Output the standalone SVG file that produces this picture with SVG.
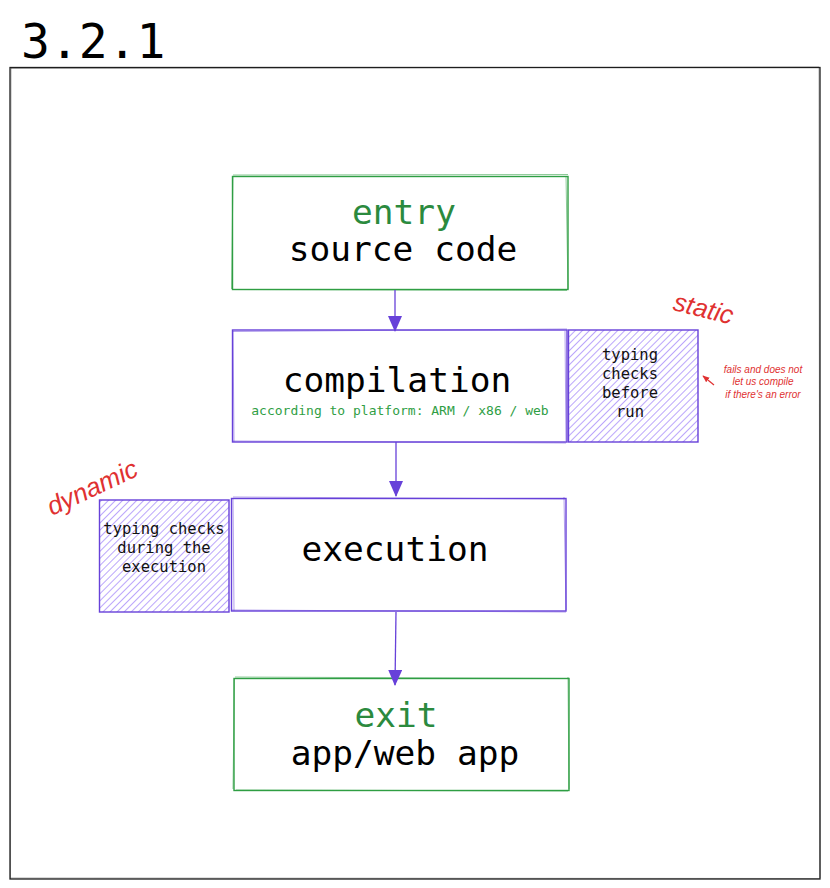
<svg xmlns="http://www.w3.org/2000/svg" width="830" height="888" viewBox="0 0 830 888">
<defs>
<style>
.mono{font-family:"DejaVu Sans Mono","Liberation Mono",monospace;}
.big{font-size:34.5px;fill:#000;text-anchor:middle;}
.grn{fill:#2b8a3e;}
.gbox{fill:#fff;stroke:#2f9e44;stroke-width:1.4;}
.gsk{fill:none;stroke:#2f9e44;stroke-width:1;opacity:0.55;}
.pbox{fill:#fff;stroke:#6741d9;stroke-width:1.4;}
.psk{fill:none;stroke:#6741d9;stroke-width:1;opacity:0.5;}
.hbox{fill:url(#hatch);stroke:#6741d9;stroke-width:1.4;}
.small{font-size:15.5px;fill:#111;text-anchor:middle;}
.conn{fill:none;stroke:#6741d9;stroke-width:1.3;}
.hand{font-family:"Comic Sans MS","Liberation Sans",sans-serif;fill:#e03131;font-style:italic;}
</style>
<pattern id="hatch" patternUnits="userSpaceOnUse" width="5" height="5" patternTransform="rotate(45)">
<rect width="5" height="5" fill="#fff"/>
<line x1="0" y1="0" x2="0" y2="5" stroke="#9775fa" stroke-width="1.3"/>
</pattern>
<marker id="arr" viewBox="0 0 16 14" refX="15" refY="7" markerWidth="16" markerHeight="14" orient="auto" markerUnits="userSpaceOnUse">
<path d="M0,0 L16,7 L0,14 Z" fill="#6741d9"/>
</marker>
<marker id="arrR" viewBox="0 0 10 10" refX="9" refY="5" markerWidth="7" markerHeight="7" orient="auto" markerUnits="userSpaceOnUse">
<path d="M0,1 L10,5 L0,9 Z" fill="#e03131"/>
</marker>
</defs>
<rect width="830" height="888" fill="#fff"/>
<text class="mono" x="21" y="58" font-size="48" fill="#000">3.2.1</text>
<g id="frame">
<rect x="10" y="67.5" width="810" height="811.5" fill="none" stroke="#1e1e1e" stroke-width="1.3"/>
<path d="M11,68.5 L819,67 M819,68 L820,878 M819.5,878.5 L11,878 M10.5,879 L11,68" fill="none" stroke="#1e1e1e" stroke-width="0.6" opacity="0.6"/>
</g>
<g id="entry">
<rect class="gbox" x="232.5" y="176.5" width="335.5" height="113"/>
<path class="gsk" d="M233,175 L568,174.5 M566,176 L568,289 M567,290.5 L234,289.5 M231.5,289 L233,177"/>
<text class="mono big grn" x="404" y="224">entry</text>
<text class="mono big" x="403" y="261">source code</text>
</g>
<g id="compilation">
<rect class="pbox" x="232.5" y="330" width="334.5" height="112"/>
<path class="psk" d="M233,331.5 L567,329 M565,331 L566,441 M566,443 L233,441 M234,442 L233,331"/>
<text class="mono big" x="397" y="392">compilation</text>
<text class="mono" x="400" y="415" font-size="13" fill="#2f9e44" text-anchor="middle">according to platform: ARM / x86 / web</text>
</g>
<g id="static-checks">
<rect class="hbox" x="568.5" y="330" width="129.5" height="112"/>
<text class="mono small" x="630" y="360">typing</text>
<text class="mono small" x="630" y="379">checks</text>
<text class="mono small" x="630" y="398">before</text>
<text class="mono small" x="630" y="417">run</text>
</g>
<text class="hand" x="671" y="318" font-size="26" transform="rotate(14 705 318)">static</text>
<g class="hand" font-size="10" text-anchor="middle" font-style="normal">
<text x="763" y="373">fails and does not</text>
<text x="763" y="385">let us compile</text>
<text x="763" y="398">if there's an error</text>
</g>
<g id="execution">
<rect class="pbox" x="231.5" y="498.5" width="334.5" height="112.5"/>
<path class="psk" d="M233,497 L565,499 M564,497 L566,610 M566,612 L232,610 M234,611 L233,499"/>
<text class="mono big" x="395" y="561">execution</text>
</g>
<g id="dynamic-checks">
<rect class="hbox" x="99.5" y="500" width="129.5" height="112"/>
<text class="mono small" x="164" y="534">typing checks</text>
<text class="mono small" x="164" y="553">during the</text>
<text class="mono small" x="164" y="572">execution</text>
</g>
<text class="hand" x="52" y="516" font-size="26" transform="rotate(-25 52 516)">dynamic</text>
<g id="exit">
<rect class="gbox" x="234" y="678.5" width="335" height="112"/>
<path class="gsk" d="M235,677 L569,678.5 M568,677 L569,789 M568,791 L236,790 M233,789 L234.5,679"/>
<text class="mono big grn" x="396" y="727">exit</text>
<text class="mono big" x="405" y="765">app/web app</text>
</g>
<g id="connectors">
<line class="conn" x1="395" y1="290" x2="395" y2="331" marker-end="url(#arr)"/>
<line class="conn" x1="396" y1="442" x2="396" y2="496" marker-end="url(#arr)"/>
<line class="conn" x1="396" y1="612" x2="395" y2="685" marker-end="url(#arr)"/>
<line x1="714" y1="385" x2="703" y2="376" stroke="#e03131" stroke-width="1.2" marker-end="url(#arrR)"/>
</g>
</svg>
